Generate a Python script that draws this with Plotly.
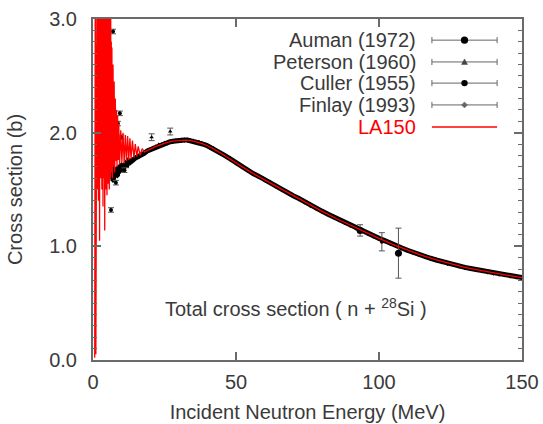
import plotly.graph_objects as go

# ---------------- data ----------------
# LA150 evaluation (red line)
la_x = [0.6, 0.8, 1.0, 1.15, 1.3,
        1.4, 1.5, 1.6, 1.7, 1.8, 1.9, 2.0, 2.1, 2.2, 2.3, 2.4, 2.5, 2.6, 2.7, 2.8, 2.9,
        3.0, 3.1, 3.2, 3.3, 3.4, 3.5, 3.6, 3.7, 3.8, 3.9, 4.0, 4.1, 4.2, 4.3, 4.4, 4.5,
        4.6, 4.7, 4.8, 4.9, 5.0, 5.1, 5.2, 5.3, 5.4, 5.5, 5.6, 5.7, 5.8, 5.9, 6.0, 6.1,
        6.2, 6.3, 6.4, 6.5,
        6.6, 6.8, 7.0, 7.2, 7.4, 7.6, 7.8, 8.0, 8.2, 8.4, 8.6, 8.8, 9.0,
        9.3, 9.7, 10.1, 10.5, 10.9, 11.3, 11.7, 12.1, 12.5, 12.9, 13.3, 13.8, 14.3, 14.8,
        15.3, 15.8, 16.5, 17.2, 18.0,
        19, 20, 22, 24, 26, 28, 30, 32, 34, 36, 38, 40, 42, 45, 50, 55, 60, 65, 70, 75,
        80, 85, 90, 95, 100, 105, 110, 115, 120, 125, 130, 135, 140, 145, 150]
la_y = [0.02, 3.5, 0.05, 3.5, 1.0,
        3.6, 1.5, 3.8, 1.7, 3.5, 1.4, 3.9, 1.8, 3.4, 1.05, 3.6, 1.9, 3.3, 1.6, 3.7, 2.0,
        3.2, 1.5, 3.5, 1.8, 3.1, 1.35, 3.4, 1.9, 3.2, 1.6, 3.5, 1.14, 3.1, 1.7, 3.3, 1.5,
        3.2, 1.8, 3.1, 1.45, 3.2, 1.9, 3.0, 1.55, 3.1, 1.8, 2.95, 1.5, 3.05, 1.85, 2.9, 1.6,
        3.0, 1.7, 2.8, 1.65,
        2.75, 1.6, 2.6, 1.7, 2.45, 1.65, 2.3, 1.75, 2.2, 1.7, 2.15, 1.76, 2.08,
        1.72, 2.02, 1.74, 2.0, 1.73, 1.98, 1.75, 1.97, 1.76, 1.95, 1.77, 1.93, 1.78, 1.9,
        1.79, 1.88, 1.80, 1.86, 1.83,
        1.845, 1.855, 1.88, 1.90, 1.915, 1.925, 1.932, 1.935, 1.932, 1.92, 1.905, 1.885,
        1.86, 1.815, 1.735, 1.655, 1.585, 1.515, 1.445, 1.375, 1.31, 1.245, 1.185, 1.125,
        1.07, 1.015, 0.965, 0.92, 0.88, 0.845, 0.815, 0.79, 0.765, 0.745, 0.725]

# Finlay (1993) - dense data band
fin_x = [6.0, 6.5, 7.0, 7.5, 8.0, 8.5, 9.0, 9.5, 10, 10.5, 11, 11.5, 12, 12.5, 13, 13.5,
         14, 15, 16, 17, 18, 19, 20, 21, 22, 23, 24, 25, 26, 27, 28, 29, 30, 31, 32, 33,
         34, 35, 36, 37, 38, 39, 40, 42, 44, 46, 48, 50, 52, 54, 56, 58, 60, 62, 64, 66,
         68, 70, 72, 74, 76, 78, 80, 82, 84, 86, 88, 90, 92, 94, 96, 98, 100, 102, 104,
         106, 108, 110, 112, 114, 116, 118, 120, 122, 124, 126, 128, 130, 132, 134, 136,
         138, 140, 142, 144, 146, 148, 150]
fin_y = [1.62, 1.70, 1.58, 1.66, 1.68, 1.62, 1.70, 1.66, 1.72, 1.68, 1.70, 1.73, 1.72,
         1.75, 1.74, 1.76, 1.76, 1.78, 1.79, 1.81, 1.82, 1.84, 1.85, 1.865, 1.875, 1.89,
         1.895, 1.905, 1.91, 1.92, 1.925, 1.93, 1.93, 1.935, 1.935, 1.935, 1.93, 1.925,
         1.92, 1.915, 1.905, 1.895, 1.885, 1.86, 1.83, 1.80, 1.77, 1.735, 1.70, 1.67, 1.64,
         1.615, 1.585, 1.56, 1.53, 1.50, 1.475, 1.445, 1.42, 1.39, 1.36, 1.335, 1.31, 1.285,
         1.26, 1.235, 1.21, 1.185, 1.16, 1.14, 1.115, 1.09, 1.07, 1.05, 1.025, 1.005, 0.985,
         0.965, 0.945, 0.93, 0.91, 0.895, 0.88, 0.865, 0.85, 0.84, 0.825, 0.815, 0.805,
         0.795, 0.785, 0.775, 0.765, 0.755, 0.75, 0.74, 0.73, 0.725]

# Auman (1972)
aum_x = [93.4, 106.8]
aum_y = [1.14, 0.94]
aum_e = [0.05, 0.22]
# Peterson (1960)
pet_x = [20.5, 27.0]
pet_y = [1.96, 2.01]
pet_e = [0.03, 0.03]
# Culler (1955)
cul_x = [6.3, 7.0, 8.0, 8.7, 9.4, 9.9, 11.0, 101.0]
cul_y = [1.32, 2.89, 1.56, 2.08, 2.17, 1.96, 1.67, 1.04]
cul_e = [0.02, 0.02, 0.02, 0.02, 0.02, 0.02, 0.02, 0.08]

legend_names = ["Auman (1972)", "Peterson (1960)", "Culler (1955)", "Finlay (1993)", "LA150"]
x_ticks = [0, 50, 100, 150]
y_ticks = [0.0, 1.0, 2.0, 3.0]

FONT = "Liberation Sans, Arial, sans-serif"
TXT = "#3a3a3a"
FRAME = "#6a6a6a"

fig = go.Figure()

fig.add_trace(go.Scatter(x=fin_x, y=fin_y, mode="lines+markers",
                         line=dict(color="black", width=5),
                         marker=dict(color="black", size=4, symbol="diamond"),
                         showlegend=False, hoverinfo="skip"))
for xs, ys, es, sym, sz in [(aum_x, aum_y, aum_e, "circle", 7),
                            (pet_x, pet_y, pet_e, "triangle-up", 4),
                            (cul_x, cul_y, cul_e, "circle", 4)]:
    fig.add_trace(go.Scatter(x=xs, y=ys, mode="markers",
                             marker=dict(color="black", size=sz, symbol=sym),
                             error_y=dict(type="data", array=es, color="#555555",
                                          thickness=1, width=3),
                             showlegend=False, hoverinfo="skip"))
fig.add_trace(go.Scatter(x=la_x, y=la_y, mode="lines",
                         line=dict(color="#ff0000", width=1.3),
                         showlegend=False, hoverinfo="skip"))

# ---- manual legend (text left, sample right) ----
row_y = [0.938, 0.874, 0.812, 0.748, 0.683]
shapes = []
annotations = []
for i, name in enumerate(legend_names):
    col = "#ff0000" if name == "LA150" else TXT
    annotations.append(dict(xref="paper", yref="paper", x=0.757, y=row_y[i],
                            text=name, showarrow=False, xanchor="right", yanchor="middle",
                            font=dict(family=FONT, size=20, color=col)))
    if name == "LA150":
        shapes.append(dict(type="line", xref="paper", yref="paper", x0=0.79, x1=0.942,
                           y0=row_y[i], y1=row_y[i], line=dict(color="#ff0000", width=1.5)))
    else:
        shapes.append(dict(type="line", xref="paper", yref="paper", x0=0.79, x1=0.942,
                           y0=row_y[i], y1=row_y[i], line=dict(color="#666666", width=1)))
        for xc in (0.79, 0.942):
            shapes.append(dict(type="line", xref="paper", yref="paper", x0=xc, x1=xc,
                               y0=row_y[i] - 0.009, y1=row_y[i] + 0.009,
                               line=dict(color="#666666", width=1)))
# legend markers
mx = 0.866
shapes.append(dict(type="circle", xref="paper", yref="paper",
                   x0=mx - 3.6 / 429, x1=mx + 3.6 / 429, y0=row_y[0] - 3.6 / 341, y1=row_y[0] + 3.6 / 341,
                   fillcolor="black", line=dict(color="black", width=0)))
shapes.append(dict(type="path", xref="paper", yref="paper",
                   path=f"M {mx - 3/429} {row_y[1] - 2.5/341} L {mx + 3/429} {row_y[1] - 2.5/341} L {mx} {row_y[1] + 3/341} Z",
                   fillcolor="#444444", line=dict(color="#444444", width=0.5)))
shapes.append(dict(type="circle", xref="paper", yref="paper",
                   x0=mx - 3.2/429, x1=mx + 3.2/429, y0=row_y[2] - 3.2/341, y1=row_y[2] + 3.2/341,
                   fillcolor="black", line=dict(color="black", width=0)))
shapes.append(dict(type="path", xref="paper", yref="paper",
                   path=f"M {mx - 3/429} {row_y[3]} L {mx} {row_y[3] + 3/341} L {mx + 3/429} {row_y[3]} L {mx} {row_y[3] - 3/341} Z",
                   fillcolor="#666666", line=dict(color="#666666", width=0.5)))

annotations.append(dict(xref="paper", yref="paper", x=0.473, y=0.155,
                        text="Total cross section ( n + <sup>28</sup>Si )",
                        showarrow=False, xanchor="center", yanchor="middle",
                        font=dict(family=FONT, size=20, color=TXT)))

fig.update_layout(
    width=543, height=424,
    margin=dict(l=93, r=21, t=19, b=64),
    paper_bgcolor="white", plot_bgcolor="white",
    font=dict(family=FONT, size=20, color=TXT),
    shapes=shapes, annotations=annotations,
    showlegend=False,
)
fig.update_xaxes(range=[0, 150], tickvals=x_ticks, ticktext=[str(v) for v in x_ticks],
                 ticks="inside", ticklen=8, tickwidth=1.5, tickcolor=FRAME,
                 showline=True, linecolor=FRAME, linewidth=2, mirror="ticks",
                 showgrid=False, zeroline=False, ticklabelstandoff=3, automargin=False,
                 tickfont=dict(family=FONT, size=20, color=TXT),
                 title=dict(text="Incident Neutron Energy (MeV)",
                            font=dict(family=FONT, size=20, color=TXT), standoff=13))
fig.update_yaxes(range=[0, 3], tickvals=y_ticks, ticktext=[f"{v:.1f}" for v in y_ticks],
                 ticks="inside", ticklen=8, tickwidth=1.5, tickcolor=FRAME,
                 minor=dict(dtick=0.1, ticks="inside", ticklen=4, tickcolor=FRAME, tickwidth=1.2,
                            showgrid=False),
                 showline=True, linecolor=FRAME, linewidth=2, mirror="ticks",
                 showgrid=False, zeroline=False, ticklabelstandoff=10, automargin=False,
                 tickfont=dict(family=FONT, size=20, color=TXT),
                 title=dict(text="Cross section (b)",
                            font=dict(family=FONT, size=20, color=TXT), standoff=21))

fig.write_html("out.html")
